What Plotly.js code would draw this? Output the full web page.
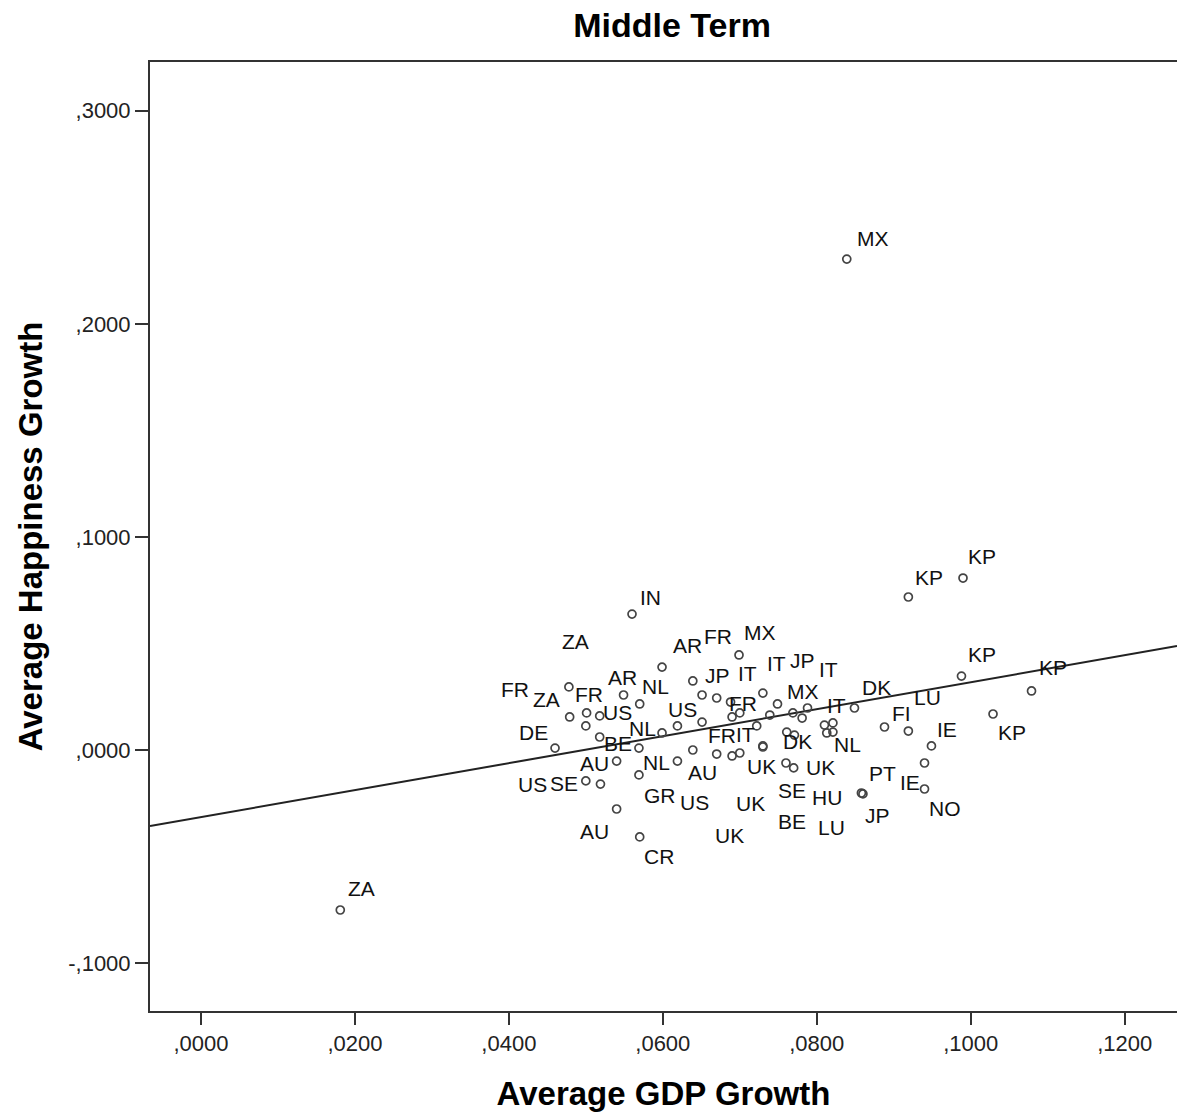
<!DOCTYPE html>
<html>
<head>
<meta charset="utf-8">
<script src="https://cdn.plot.ly/plotly-3.0.1.min.js"></script>
<style>html,body{margin:0;padding:0;background:#fff;}#chart{width:1177px;height:1115px;}</style>
</head>
<body>
<div id="chart"></div>
<script>
// ---- data ----
var countries = ["MX","ZA","KP","KP","IN","KP","KP","KP","AR","ZA",
  "AR","NL","FR","FR","US","ZA","US","BE","DE","NL",
  "NL","AU","US","GR","US","SE","AU","CR","MX","FR",
  "IT","JP","IT","JP","FR","","MX","IT","DK","",
  "IT","","FR","","IT","","LU","DK","NL","UK",
  "AU","UK","UK","UK","BE","","SE","HU","PT","JP",
  "FI","LU","IE","IE","NO"];
var gdpGrowth = [0.0839,0.0181,0.0990,0.0919,0.0560,0.0988,0.1079,0.1029,0.0599,0.0478,
  0.0549,0.0570,0.0479,0.0501,0.0518,0.0500,0.0619,0.0518,0.0460,0.0599,
  0.0569,0.0540,0.0619,0.0569,0.0500,0.0519,0.0540,0.0570,0.0699,0.0639,
  0.0730,0.0651,0.0670,0.0749,0.0688,0.0739,0.0769,0.0788,0.0849,0.0781,
  0.0690,0.0700,0.0651,0.0810,0.0821,0.0722,0.0761,0.0771,0.0813,0.0821,
  0.0639,0.0670,0.0690,0.0700,0.0730,0.0730,0.0760,0.0770,0.0858,0.0860,
  0.0888,0.0919,0.0949,0.0940,0.0940];
var happinessGrowth = [0.2304,-0.0751,0.0807,0.0718,0.0638,0.0347,0.0277,0.0169,0.0389,0.0296,
  0.0258,0.0216,0.0155,0.0174,0.0160,0.0113,0.0113,0.0061,0.0009,0.0080,
  0.0009,-0.0052,-0.0052,-0.0117,-0.0145,-0.0160,-0.0277,-0.0408,0.0446,0.0324,
  0.0267,0.0258,0.0244,0.0216,0.0225,0.0164,0.0174,0.0197,0.0197,0.0150,
  0.0155,0.0174,0.0131,0.0117,0.0127,0.0113,0.0084,0.0070,0.0080,0.0084,
  0.0000,-0.0019,-0.0028,-0.0014,0.0019,0.0014,-0.0061,-0.0084,-0.0202,-0.0206,
  0.0108,0.0089,0.0019,-0.0061,-0.0183];
var fitSlope = 0.633;
var fitIntercept = -0.0315;
var xTickVals = [0,0.02,0.04,0.06,0.08,0.10,0.12];
var xTickText = [",0000",",0200",",0400",",0600",",0800",",1000",",1200"];
var yTickVals = [-0.1,0,0.1,0.2,0.3];
var yTickText = ["-,1000",",0000",",1000",",2000",",3000"];

// ---- label placement (pixel offsets from each point, screen direction) ----
var labelOffsets = [[26,-21],[21,-22],[19,-22],[21,-20],[18,-17],[21,-22],[21,-23],[19,19],[25,-22],[7,-45],
  [-1,-18],[16,-17],[-55,-27],[2,-18],[18,-3],[-39,-26],[5,-16],[18,6],[-22,-16],[-6,30],
  [4,-20],[-22,2],[17,41],[21,21],[-53,4],[-36,-1],[-22,22],[19,20],[21,-22],[25,-44],
  [14,-30],[15,-20],[31,-25],[25,-43],[12,1],[0,0],[10,-21],[21,-39],[22,-21],[0,0],
  [13,18],[0,0],[20,13],[0,0],[4,-17],[0,0],[45,95],[3,6],[21,12],[-12,35],
  [10,23],[13,81],[18,48],[22,14],[29,76],[0,0],[6,28],[33,30],[21,-20],[15,22],
  [17,-13],[19,-34],[16,-16],[-15,20],[20,20]];

var xRange = [-0.00662, 0.1268];
var yRange = [-0.1225, 0.3229];
var FONT = "Liberation Sans, Arial, sans-serif";

var points = {
  type: "scatter", mode: "markers",
  x: gdpGrowth, y: happinessGrowth,
  marker: {symbol: "circle-open", size: 8, color: "#444", line: {width: 1.7, color: "#444"}},
  hoverinfo: "x+y", showlegend: false, cliponaxis: false
};
var fit = {
  type: "scatter", mode: "lines",
  x: [xRange[0], xRange[1]],
  y: [fitIntercept + fitSlope * xRange[0], fitIntercept + fitSlope * xRange[1]],
  line: {color: "#222", width: 2}, hoverinfo: "skip", showlegend: false
};

var annotations = [];
for (var i = 0; i < countries.length; i++) {
  if (!countries[i]) continue;
  annotations.push({
    x: gdpGrowth[i], y: happinessGrowth[i], xref: "x", yref: "y",
    text: countries[i], showarrow: false,
    xshift: labelOffsets[i][0], yshift: -labelOffsets[i][1],
    font: {family: FONT, size: 21, color: "#111"}
  });
}

var layout = {
  width: 1177, height: 1115,
  margin: {l: 150, r: 0, t: 62, b: 104, pad: 0},
  paper_bgcolor: "#fff", plot_bgcolor: "#fff",
  title: {text: "Middle Term", font: {family: FONT, size: 34, color: "#000", weight: "bold"},
          xref: "container", x: 0.571, xanchor: "center", yref: "container", y: 0.9776, yanchor: "middle"},
  xaxis: {
    range: xRange, tickmode: "array", tickvals: xTickVals, ticktext: xTickText,
    ticks: "outside", ticklen: 12, tickwidth: 2, tickcolor: "#333",
    showline: true, linecolor: "#333", linewidth: 2, mirror: true,
    showgrid: false, zeroline: false,
    tickfont: {family: FONT, size: 22, color: "#222"},
    title: {text: "Average GDP Growth", font: {family: FONT, size: 33, color: "#000", weight: "bold"}, standoff: 26},
    automargin: false
  },
  yaxis: {
    range: yRange, tickmode: "array", tickvals: yTickVals, ticktext: yTickText,
    ticks: "outside", ticklen: 13, tickwidth: 2, tickcolor: "#333",
    showline: true, linecolor: "#333", linewidth: 2, mirror: true,
    showgrid: false, zeroline: false,
    tickfont: {family: FONT, size: 22, color: "#222"},
    title: {text: "Average Happiness Growth", font: {family: FONT, size: 33, color: "#000", weight: "bold"}, standoff: 16},
    automargin: false
  },
  annotations: annotations
};

Plotly.newPlot("chart", [fit, points], layout, {displayModeBar: false, staticPlot: true});
</script>
</body>
</html>
